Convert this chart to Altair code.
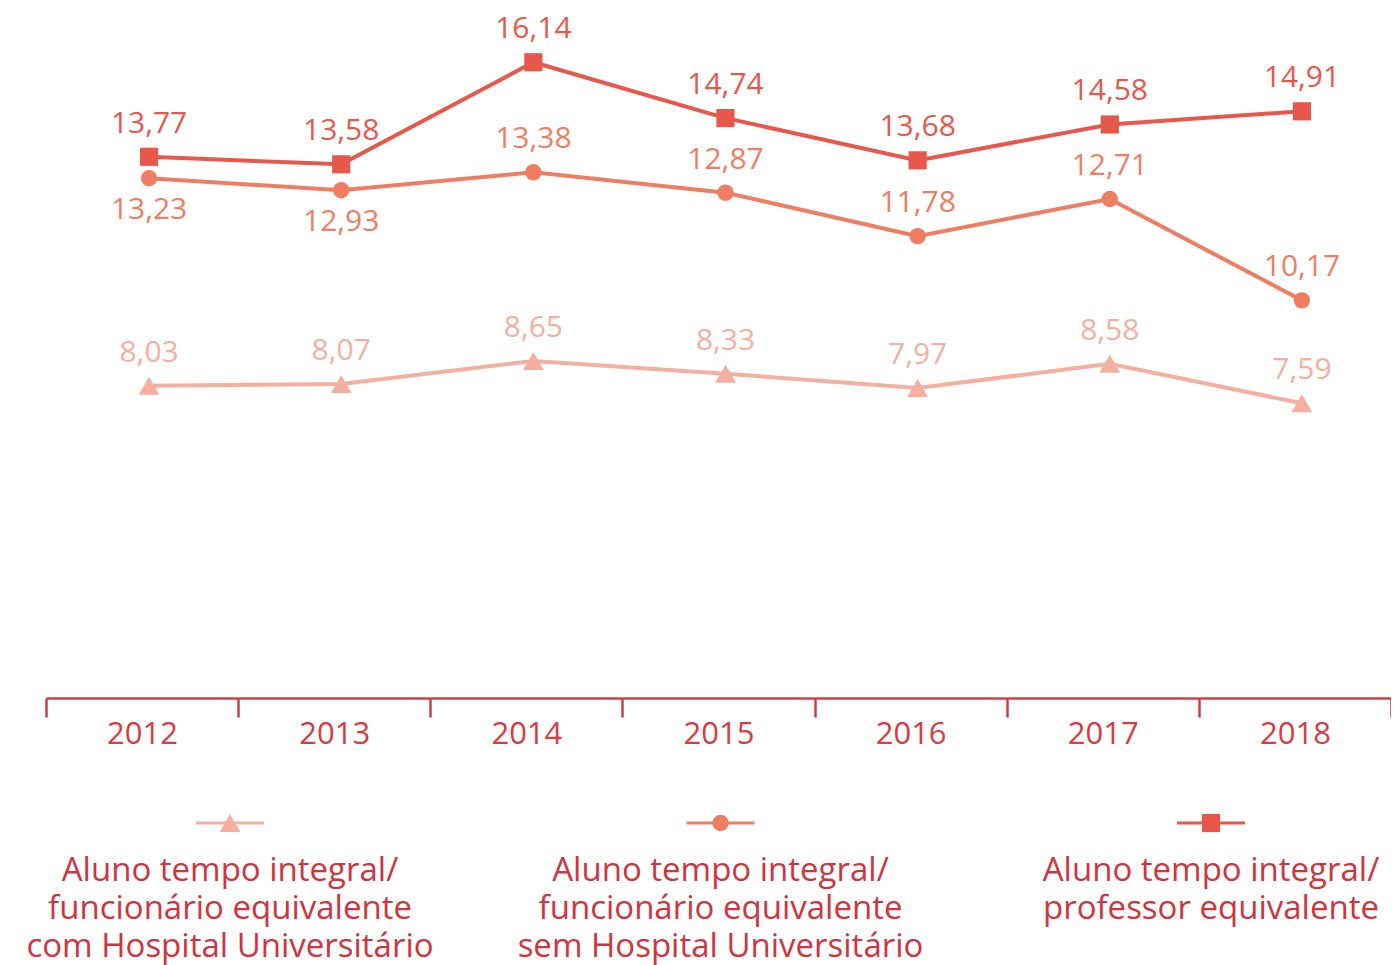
import altair as alt
import pandas as pd

FONT = "Open Sans"

years = ["2012", "2013", "2014", "2015", "2016", "2017", "2018"]
prof_equiv = [13.77, 13.58, 16.14, 14.74, 13.68, 14.58, 14.91]
func_sem_hu = [13.23, 12.93, 13.38, 12.87, 11.78, 12.71, 10.17]
func_com_hu = [8.03, 8.07, 8.65, 8.33, 7.97, 8.58, 7.59]

series_names = ["func_com_hu", "func_sem_hu", "prof_equiv"]
series_values = [func_com_hu, func_sem_hu, prof_equiv]
legend_texts = [
    "Aluno tempo integral/\nfuncionário equivalente\ncom Hospital Universitário",
    "Aluno tempo integral/\nfuncionário equivalente\nsem Hospital Universitário",
    "Aluno tempo integral/\nprofessor equivalente",
]
colors = ["#F4AFA1", "#EF7D62", "#E8574C"]
shapes = ["triangle-up", "circle", "square"]
sizes = [430, 270, 330]
AXIS_RED = "#D63C45"
TEXT_RED = "#D0343F"

rows = []
for s, vals in zip(series_names, series_values):
    for y, v in zip(years, vals):
        rows.append({"year": y, "series": s, "value": v,
                     "label": f"{v:.2f}".replace(".", ",")})
df = pd.DataFrame(rows)

legend_df = pd.DataFrame({"series": series_names,
                          "idx": list(range(len(series_names))),
                          "text": legend_texts})

color_scale = alt.Scale(domain=series_names, range=colors)

x_enc = alt.X("year:N",
              scale=alt.Scale(type="band", paddingInner=0, paddingOuter=0),
              bandPosition=0.5,
              axis=alt.Axis(title=None, labelAngle=0, grid=False,
                            domainColor=AXIS_RED, domainWidth=2.5,
                            tickColor=AXIS_RED, tickWidth=2.5, tickSize=19,
                            tickBand="extent", labelColor=AXIS_RED,
                            labelFont=FONT, labelFontSize=31, labelPadding=2))
y_enc = alt.Y("value:Q",
              scale=alt.Scale(domain=[0.2, 17.5], zero=False, nice=False),
              axis=None)
c_enc = alt.Color("series:N", scale=color_scale, legend=None)

base = alt.Chart(df).encode(x=x_enc, y=y_enc, color=c_enc)

lines = base.mark_line(strokeWidth=4, xOffset=7)

point_layers = []
for s, sh, sz in zip(series_names, shapes, sizes):
    point_layers.append(
        base.transform_filter(alt.datum.series == s)
        .mark_point(shape=sh, size=sz, filled=True, opacity=1, xOffset=7)
    )

below_expr = "datum.series == 'func_sem_hu' && (datum.year == '2012' || datum.year == '2013')"
labels_above = base.transform_filter("!(" + below_expr + ")").mark_text(
    font=FONT, fontSize=30, dy=-33, xOffset=7, align="center", baseline="middle"
).encode(text="label:N")
labels_below = base.transform_filter(below_expr).mark_text(
    font=FONT, fontSize=30, dy=32, xOffset=7, align="center", baseline="middle"
).encode(text="label:N")

main = alt.layer(lines, *point_layers, labels_above, labels_below)

leg_x = alt.X("idx:Q", scale=alt.Scale(domain=[0, 2], range=[184, 1165]), axis=None)
leg_base = alt.Chart(legend_df).encode(x=leg_x)
leg_rule = leg_base.mark_rule(strokeWidth=3, xOffset=-34, x2Offset=34).encode(
    x2="idx:Q", y=alt.value(815), color=c_enc)
leg_points = []
for s, sh, sz in zip(series_names, shapes, sizes):
    leg_points.append(
        leg_base.transform_filter(alt.datum.series == s)
        .mark_point(shape=sh, size=sz, filled=True, opacity=1)
        .encode(y=alt.value(815), color=c_enc)
    )
leg_text = leg_base.mark_text(font=FONT, fontSize=33, lineBreak="\n",
                              lineHeight=38, align="center",
                              baseline="alphabetic", color=TEXT_RED).encode(
    y=alt.value(873), text="text:N")

legend_layer = alt.layer(leg_rule, *leg_points, leg_text)

chart = alt.layer(main, legend_layer).resolve_scale(x="independent").properties(
    width=1345, height=690,
    autosize=alt.AutoSizeParams(type="none"),
    padding={"left": 38, "top": 0, "right": 0, "bottom": 267},
    background="white",
).configure_view(stroke=None)

chart.save("out.html", embed_options={"renderer": "svg", "actions": False})
